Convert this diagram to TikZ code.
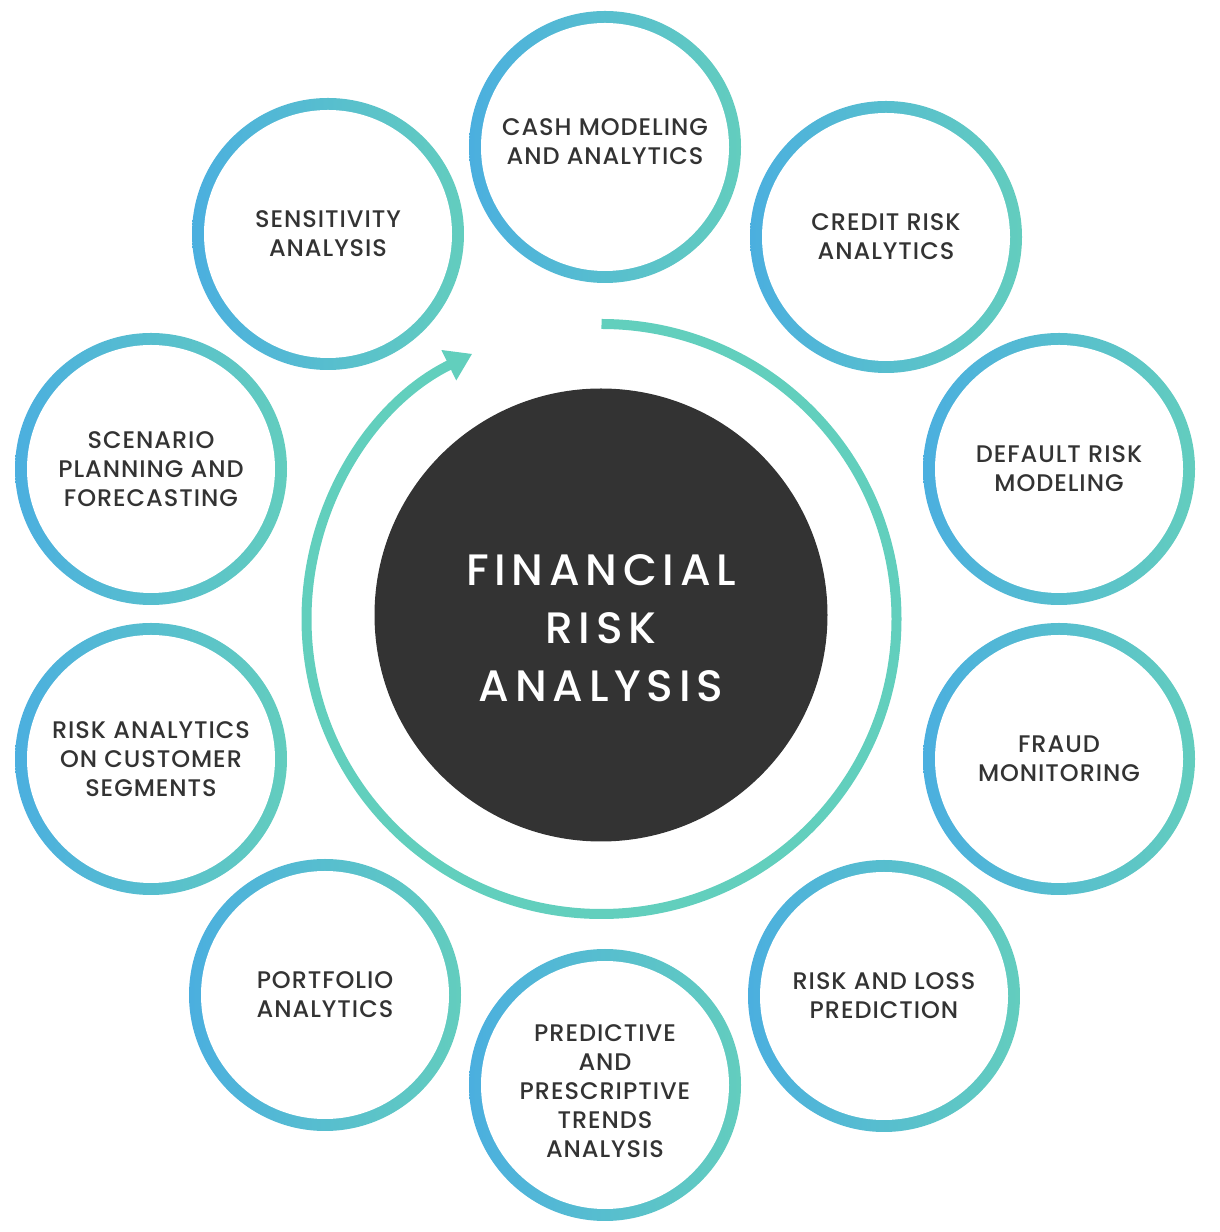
\documentclass[tikz,border=0pt]{standalone}
\usepackage{fontspec}
\setmainfont{Poppins}[UprightFont={* Medium}]
\newfontfamily\topicfont{Poppins}[UprightFont={* Medium}, LetterSpace=4]
\newfontfamily\hubfont{Poppins}[UprightFont={* Medium}, LetterSpace=13]
\usetikzlibrary{arrows.meta}
\definecolor{ringblue}{HTML}{4BAFDF}
\definecolor{ringteal}{HTML}{63CDBE}
\definecolor{arcteal}{HTML}{62CFBD}
\definecolor{hubdark}{HTML}{333333}

\begin{document}
\begin{tikzpicture}[
  x=1pt, y=1pt,
  topic/.style={circle, minimum size=272pt, inner sep=0pt, align=center,
    left color=ringblue, right color=ringteal, text=hubdark,
    font=\topicfont\fontsize{24}{29}\selectfont,
    path picture={\fill[white] (path picture bounding box.center) circle (124pt);}},
  hub/.style={circle, fill=hubdark, minimum size=453pt, inner sep=0pt},
  hubtitle/.style={align=center, text=white, font=\hubfont\fontsize{44}{58}\selectfont},
  loopline/.style={draw=arcteal, line width=10pt, -{Triangle[length=26pt, width=32pt]}}
]
\useasboundingbox (0,0) rectangle (1220,1232);
\coordinate (axis) at (601.5,613);
\node[hub] (fra) at (601,617) {};
\node[hubtitle] (title) at ([yshift=-13]fra.center) {FINANCIAL\\RISK\\ANALYSIS};
\draw[loopline] ([shift={(90:295)}]axis) arc[start angle=90, end angle=-244, radius=295];

\node[topic, text depth=10pt] (cash) at (605,1085) {CASH MODELING\\AND ANALYTICS};
\node[topic] (credit) at (886,995) {CREDIT RISK\\ANALYTICS};
\node[topic] (default) at (1059,763) {DEFAULT RISK\\MODELING};
\node[topic] (fraud) at (1059,473) {FRAUD\\MONITORING};
\node[topic] (loss) at (884,236) {RISK AND LOSS\\PREDICTION};
\node[topic, text height=145pt] (trends) at (605,147) {PREDICTIVE\\AND\\PRESCRIPTIVE\\TRENDS\\ANALYSIS};
\node[topic] (portfolio) at (325,237) {PORTFOLIO\\ANALYTICS};
\node[topic] (segments) at (151,473) {RISK ANALYTICS\\ON CUSTOMER\\SEGMENTS};
\node[topic] (scenario) at (151,763) {SCENARIO\\PLANNING AND\\FORECASTING};
\node[topic] (sensitivity) at (328,998) {SENSITIVITY\\ANALYSIS};
\end{tikzpicture}
\end{document}
